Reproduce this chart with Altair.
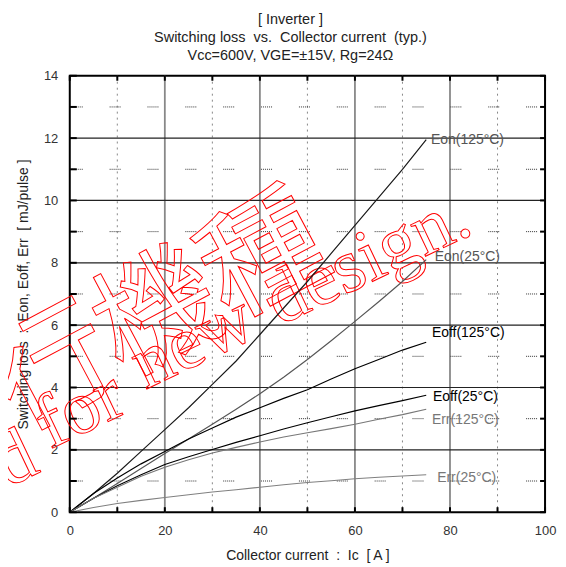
import altair as alt
import pandas as pd

# ---------------- data ----------------
ic = [0, 5, 10, 15, 20, 25, 30, 35, 40, 45, 50, 55, 60, 65, 70, 75]
eon_125 = [0, 0.6, 1.25, 1.95, 2.65, 3.35, 4.1, 4.85, 5.7, 6.55, 7.4, 8.3, 9.2, 10.1, 11.0, 11.95]
eon_25 = [0, 0.45, 0.92, 1.4, 1.88, 2.35, 2.82, 3.3, 3.8, 4.33, 4.9, 5.5, 6.12, 6.75, 7.4, 8.1]
eoff_125 = [0, 0.6, 1.1, 1.55, 1.95, 2.35, 2.7, 3.05, 3.35, 3.65, 3.93, 4.27, 4.6, 4.9, 5.2, 5.45]
eoff_25 = [0, 0.45, 0.85, 1.2, 1.53, 1.78, 2.01, 2.24, 2.45, 2.67, 2.87, 3.06, 3.25, 3.42, 3.58, 3.75]
err_125 = [0, 0.45, 0.8, 1.15, 1.44, 1.68, 1.9, 2.08, 2.25, 2.41, 2.55, 2.68, 2.82, 2.98, 3.13, 3.3]
err_25 = [0, 0.15, 0.28, 0.38, 0.47, 0.56, 0.65, 0.72, 0.8, 0.88, 0.95, 1.01, 1.07, 1.12, 1.16, 1.2]

series_names = ["Eon125", "Eon25", "Eoff125", "Eoff25", "Err125", "Err25"]
series_values = [eon_125, eon_25, eoff_125, eoff_25, err_125, err_25]
series_colors = ["#1a1a1a", "#555555", "#000000", "#000000", "#777777", "#808080"]
series_widths = [1.2, 1.1, 2.0, 2.0, 1.4, 1.4]

label_text = ["Eon(125°C)", "Eon(25°C)", "Eoff(125°C)", "Eoff(25°C)", "Err(125°C)", "Err(25°C)"]
label_x = [76.0, 76.8, 76.2, 76.4, 76.2, 77.3]
label_y = [11.95, 8.18, 5.75, 3.71, 2.97, 1.09]
label_colors = ["#555555", "#555555", "#000000", "#000000", "#777777", "#777777"]

x_major = [20, 40, 60, 80]
x_minor = [10, 30, 50, 70, 90]
y_major = [2, 4, 6, 8, 10, 12]
y_minor = [1, 3, 5, 7, 9, 11, 13]
x_ticks = [0, 10, 20, 30, 40, 50, 60, 70, 80, 90, 100]
y_ticks = list(range(0, 15))
x_tick_labels = [0, 20, 40, 60, 80, 100]
y_tick_labels = [0, 2, 4, 6, 8, 10, 12, 14]

NB = "\u00a0"
title_lines = ["[ Inverter ]",
               f"Switching loss{NB}{NB}vs.{NB}{NB}Collector current{NB}{NB}(typ.)",
               "Vcc=600V, VGE=±15V, Rg=24Ω"]
x_title = f"Collector current{NB}{NB}:{NB}{NB}Ic{NB}{NB}[ A ]"
y_title = f"Switching loss{NB}{NB}:{NB}{NB}Eon, Eoff, Err{NB}{NB}[ mJ/pulse ]"

wm_chars = ["行", "機", "種"]
wm_char_x = [-3.5, 18.7, 40.9]
wm_char_y = [4.52, 6.27, 8.10]
wm_words_left = ["for", "new", "design."]
wm_left_x = [-4.2, 15.9, 44.2]
wm_left_y = [2.01, 3.93, 5.98]
wm_words_right = ["Not recommended"]
wm_right_x = [-5.9]
wm_right_y = [1.31]

# ---------------- build tables ----------------
rows = []
for name, vals_ in zip(series_names, series_values):
    for xv, yv in zip(ic, vals_):
        rows.append({"x": xv, "y": yv, "series": name})
curves = pd.DataFrame(rows)
labels = pd.DataFrame({"x": label_x, "y": label_y, "text": label_text, "c": label_colors})
wm_j = pd.DataFrame({"x": wm_char_x, "y": wm_char_y, "t": wm_chars})
wm_l = pd.DataFrame({"x": wm_left_x, "y": wm_left_y, "t": wm_words_left})
wm_r = pd.DataFrame({"x": wm_right_x, "y": wm_right_y, "t": wm_words_right})

W, H = 477, 438
FONT = "Liberation Sans"

xs = alt.Scale(domain=[0, 100], nice=False, zero=False)
ys = alt.Scale(domain=[0, 14], nice=False, zero=False)

xaxis = alt.Axis(values=x_tick_labels, grid=False, ticks=False, domain=False,
                 labelFont=FONT, labelFontSize=13, labelColor="#333333",
                 labelPadding=12, title=x_title, titleFont=FONT, titleFontSize=14,
                 titleFontWeight="normal", titleColor="#222222", titlePadding=11,
                 labelFlush=False)
yaxis = alt.Axis(values=y_tick_labels, grid=False, ticks=False, domain=False,
                 labelFont=FONT, labelFontSize=13, labelColor="#333333",
                 labelPadding=12, title=y_title, titleFont=FONT, titleFontSize=14,
                 titleFontWeight="normal", titleColor="#222222", titlePadding=13,
                 labelFlush=False)

X = lambda: alt.X("x:Q", scale=xs, axis=xaxis)
Y = lambda: alt.Y("y:Q", scale=ys, axis=yaxis)

def vals(lst):
    return pd.DataFrame({"x": lst, "y": lst})

# grid
g_xmaj = alt.Chart(vals(x_major)).mark_rule(color="#888888", strokeWidth=1.8).encode(x=X())
g_xmin = alt.Chart(vals(x_minor)).mark_rule(color="#888888", strokeWidth=1,
                                           strokeDash=[2, 4]).encode(x=X())
g_ymaj = alt.Chart(vals(y_major)).mark_rule(color="#222222", strokeWidth=1.2).encode(y=Y())
g_ymin = alt.Chart(vals(y_minor)).mark_rule(
    color="#333333", strokeWidth=1,
    strokeDash=[1, 1, 1, 1, 1, 1, 1, 1, 1, 1, 1, 27], strokeDashOffset=30).encode(y=Y())

# watermark
wm_style = dict(stroke="#ff0000", strokeWidth=1, fillOpacity=0)
wmj = alt.Chart(wm_j).mark_text(font="Noto Sans CJK JP", fontSize=122,
                               angle=332, align="center", baseline="middle", **wm_style).encode(
    x=X(), y=Y(), text="t:N")
wml = alt.Chart(wm_l).mark_text(font="Liberation Serif", fontSize=76, angle=334.5,
                               align="left", baseline="alphabetic", **wm_style).encode(
    x=X(), y=Y(), text="t:N")
wmr = alt.Chart(wm_r).mark_text(font="Liberation Serif", fontSize=76, angle=334.5,
                               align="right", baseline="alphabetic", **wm_style).encode(
    x=X(), y=Y(), text="t:N")

# curves
lines = alt.Chart(curves).mark_line(clip=True).encode(
    x=X(), y=Y(),
    detail="series:N",
    color=alt.Color("series:N", scale=alt.Scale(domain=series_names, range=series_colors), legend=None),
    strokeWidth=alt.StrokeWidth("series:N", scale=alt.Scale(domain=series_names, range=series_widths), legend=None),
)

lab = alt.Chart(labels).mark_text(font=FONT, fontSize=14, align="left", baseline="middle").encode(
    x=X(), y=Y(), text="text:N", color=alt.Color("c:N", scale=None))

# ticks (inside)
t_left = alt.Chart(vals(y_ticks)).mark_rule(color="#000000", strokeWidth=2).encode(
    y=Y(), x=alt.value(0), x2=alt.value(7))
t_right = alt.Chart(vals(y_ticks)).mark_rule(color="#000000", strokeWidth=2).encode(
    y=Y(), x=alt.value(W - 5), x2=alt.value(W))
t_bot = alt.Chart(vals(x_ticks)).mark_rule(color="#000000", strokeWidth=2).encode(
    x=X(), y=alt.value(H), y2=alt.value(H - 5))
t_top = alt.Chart(vals(x_ticks)).mark_rule(color="#000000", strokeWidth=2).encode(
    x=X(), y=alt.value(0), y2=alt.value(5))

chart = alt.layer(
    g_xmaj, g_xmin, g_ymaj, g_ymin, wmj, wml, wmr, lines, lab, t_left, t_right, t_bot, t_top
).properties(
    width=W, height=H,
    title=alt.Title(text=title_lines, font=FONT, fontSize=14.5, fontWeight="normal",
                    color="#222222", lineHeight=18, anchor="middle", offset=6, dx=-17),
    autosize=alt.AutoSizeParams(type="none"),
    padding={"left": 62, "top": 67, "right": 13, "bottom": 54},
    background="white",
).configure_view(stroke="#000000", strokeWidth=2)

chart.save("out.html", embed_options={"renderer": "svg", "actions": False})
